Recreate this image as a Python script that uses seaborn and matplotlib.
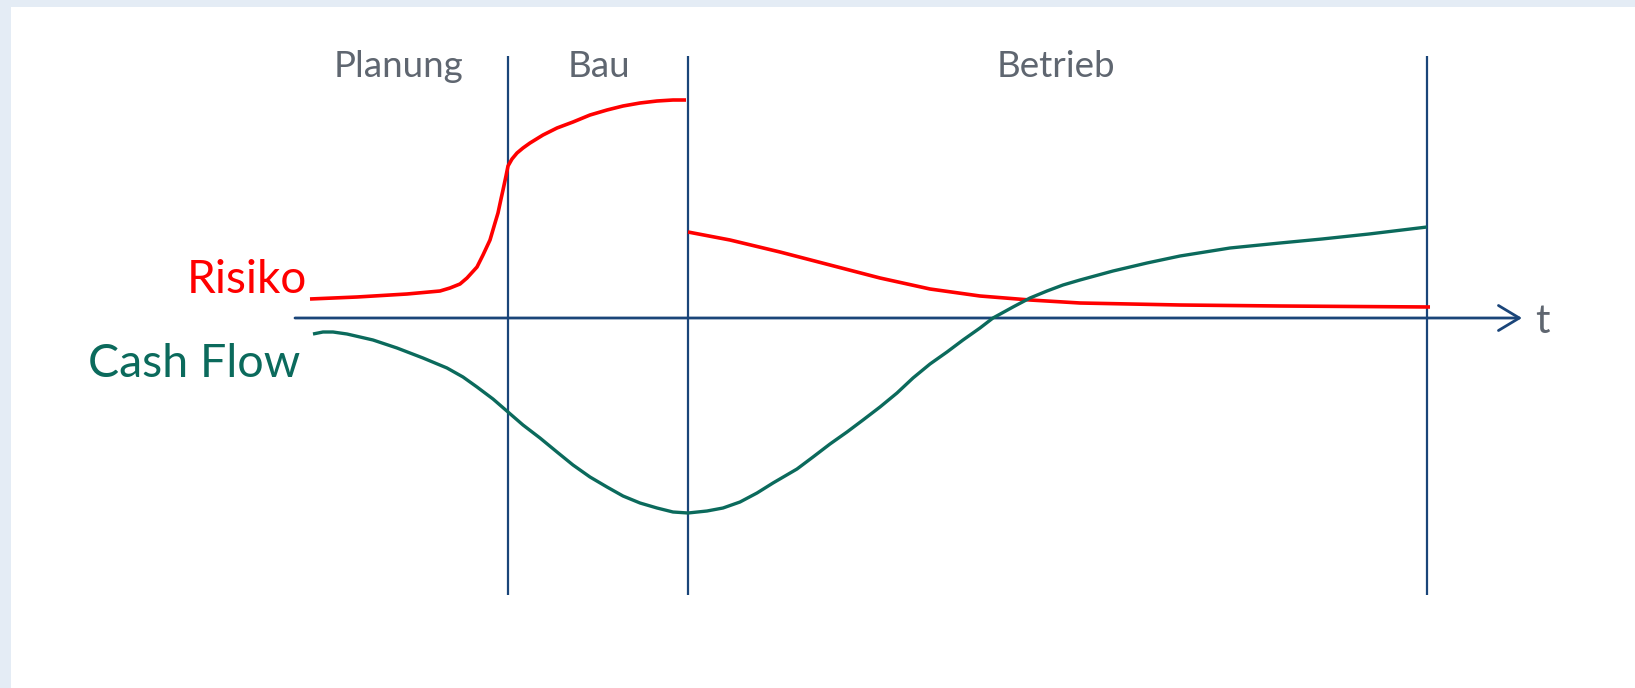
import numpy as np
import pandas as pd
import seaborn as sns
import matplotlib
matplotlib.use("Agg")
import matplotlib.pyplot as plt
from matplotlib.patches import Rectangle

# ---------------- data (time t, value v; axis at v = 0) ----------------
phase_names = ["Planung", "Bau", "Betrieb"]
phase_label_t = [1.025, 3.03, 7.60]
phase_bounds = [2.12, 3.92, 11.31]

risk_build_t = [0.14, 0.61, 1.11, 1.44, 1.54, 1.64, 1.71, 1.81, 1.87, 1.94, 1.99,
                2.02, 2.05, 2.07, 2.10, 2.12, 2.16, 2.21, 2.27, 2.34, 2.47, 2.61,
                2.77, 2.94, 3.11, 3.27, 3.44, 3.61, 3.77, 3.90]
risk_build_v = [0.19, 0.21, 0.24, 0.27, 0.30, 0.34, 0.40, 0.51, 0.63, 0.78, 0.95,
                1.05, 1.19, 1.28, 1.42, 1.52, 1.59, 1.65, 1.70, 1.75, 1.83, 1.90,
                1.96, 2.03, 2.08, 2.12, 2.15, 2.17, 2.18, 2.18]

risk_oper_t = [3.92, 4.34, 4.84, 5.34, 5.84, 6.34, 6.84, 7.34, 7.84, 8.34, 8.84,
               9.84, 11.34]
risk_oper_v = [0.86, 0.78, 0.66, 0.53, 0.40, 0.29, 0.22, 0.18, 0.15, 0.14, 0.13,
               0.12, 0.11]

cash_t = [0.17, 0.27, 0.37, 0.51, 0.77, 1.01, 1.27, 1.51, 1.67, 1.81, 1.97, 2.12,
          2.27, 2.44, 2.61, 2.77, 2.94, 3.11, 3.27, 3.44, 3.61, 3.77, 3.92, 4.11,
          4.27, 4.44, 4.61, 4.77, 5.01, 5.17, 5.34, 5.51, 5.67, 5.84, 6.01, 6.17,
          6.34, 6.51, 6.67, 6.84, 6.97, 7.17, 7.34, 7.51, 7.67, 7.84, 8.17, 8.51,
          8.84, 9.34, 9.84, 10.26, 10.73, 11.31]
cash_v = [-0.16, -0.14, -0.14, -0.16, -0.22, -0.30, -0.40, -0.50, -0.59, -0.69,
          -0.81, -0.94, -1.07, -1.20, -1.34, -1.47, -1.59, -1.69, -1.78, -1.85,
          -1.90, -1.94, -1.95, -1.93, -1.90, -1.84, -1.75, -1.65, -1.51, -1.39,
          -1.26, -1.14, -1.02, -0.89, -0.75, -0.60, -0.46, -0.34, -0.22, -0.10,
          0.00, 0.11, 0.20, 0.27, 0.33, 0.38, 0.47, 0.55, 0.62, 0.70, 0.75, 0.79,
          0.84, 0.91]

series_labels = ["Risiko", "Cash Flow"]
axis_label = "t"

# ---------------- style ----------------
RED = "#FF0000"
GREEN = "#0B6A5C"
NAVY = "#1A4579"
GRAY = "#5F6670"
FRAME = "#E4ECF5"

sns.set_theme(style="white")
plt.rcParams["font.family"] = ["Lato", "DejaVu Sans"]

W, H = 1635, 688
fig = plt.figure(figsize=(W / 100, H / 100), dpi=100, facecolor=FRAME)
fig.patches.append(Rectangle((11 / W, 0), 1 - 11 / W, 1 - 7 / H,
                             transform=fig.transFigure, facecolor="white",
                             edgecolor="none", zorder=-5))
ax = fig.add_axes([0, 0, 1, 1], facecolor="none")

df_r1 = pd.DataFrame({"t": risk_build_t, "v": risk_build_v})
df_r2 = pd.DataFrame({"t": risk_oper_t, "v": risk_oper_v})
df_c = pd.DataFrame({"t": cash_t, "v": cash_v})

# phase boundaries
ax.vlines(phase_bounds, -2.77, 2.62, color=NAVY, lw=1.6, zorder=2)

# time axis with arrow
ax.annotate("", xy=(12.26, 0), xytext=(-0.01, 0),
            arrowprops=dict(arrowstyle="->,head_length=0.5,head_width=0.3",
                            lw=2.0, color=NAVY, mutation_scale=30,
                            shrinkA=0, shrinkB=0), zorder=2)

for d, c, w in [(df_r1, RED, 2.6), (df_r2, RED, 2.6), (df_c, GREEN, 2.4)]:
    sns.lineplot(data=d, x="t", y="v", ax=ax, color=c, lw=w, sort=False,
                 estimator=None, zorder=3, legend=False,
                 solid_joinstyle="round", solid_capstyle="butt")

for name, t in zip(phase_names, phase_label_t):
    ax.text(t, 2.41, name, ha="center", va="baseline", fontsize=26.5, color=GRAY)

ax.text(0.11, 0.25, series_labels[0], ha="right", va="baseline", fontsize=33, color=RED)
ax.text(0.04, -0.59, series_labels[1], ha="right", va="baseline", fontsize=33.5, color=GREEN)
ax.text(12.39, -0.15, axis_label, ha="left", va="baseline", fontsize=29, color=GRAY)

ax.set_xlim(-2.96, 13.39)
ax.set_ylim(-3.70, 3.18)
ax.set_axis_off()

fig.savefig("out.png", dpi=100, facecolor=FRAME)
